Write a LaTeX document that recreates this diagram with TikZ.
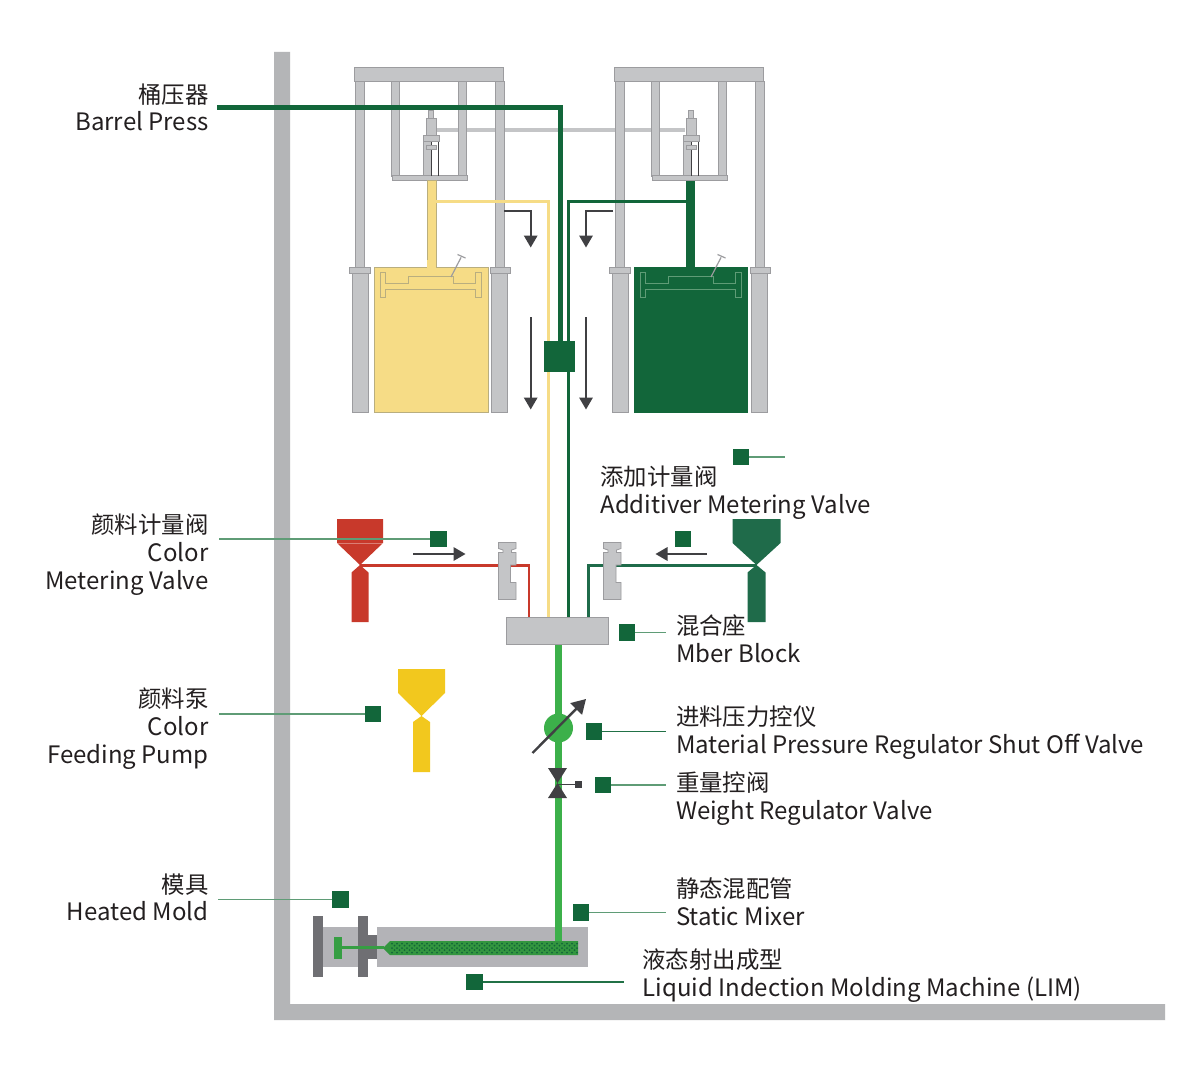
\documentclass[tikz,border=0pt]{standalone}
\usepackage{fontspec}
\setmainfont{Noto Sans CJK SC}
\usetikzlibrary{arrows.meta}
\definecolor{grayfill}{HTML}{C4C5C7}
\definecolor{grayedge}{HTML}{9C9C9F}
\definecolor{framegray}{HTML}{B4B5B7}
\definecolor{moldgray}{HTML}{B3B3B7}
\definecolor{platedark}{HTML}{6F6F73}
\definecolor{dkgreen}{HTML}{12663A}
\definecolor{leadgreen}{HTML}{5F9C76}
\definecolor{pipegreen}{HTML}{3CB04A}
\definecolor{hopgreen}{HTML}{1F6B4A}
\definecolor{yel}{HTML}{F6DC86}
\definecolor{yeledge}{HTML}{B9AE7F}
\definecolor{pumpyel}{HTML}{F2C81E}
\definecolor{redc}{HTML}{C8392B}
\definecolor{arrowc}{HTML}{404043}
\definecolor{txt}{HTML}{231F20}
\newcommand{\cnl}[1]{{\fontsize{23.4}{27.5}\selectfont #1}}
\tikzset{
  graypart/.style={fill=grayfill,draw=grayedge,line width=.8pt},
  sq/.style={fill=dkgreen,draw=none,minimum size=16.5pt,inner sep=0pt,outer sep=0pt},
  leader/.style={draw=leadgreen,line width=1.8pt},
  label/.style={font=\fontsize{24}{27.8}\selectfont,text=txt,inner sep=0pt,outer sep=0pt},
  lblL/.style={label,anchor=east,align=right},
  lblR/.style={label,anchor=west,align=left},
  flow/.style={draw=arrowc,line width=1.7pt,-{Triangle[length=12pt,width=13.5pt]}},
  pipeD/.style={draw=dkgreen,line width=2.6pt},
  pipeY/.style={draw=yel,line width=3pt},
  pipeR/.style={draw=redc,line width=2.6pt},
  pipeH/.style={draw=hopgreen,line width=2.6pt},
  block/.style={graypart,inner sep=0pt,outer sep=0pt}
}
\newcommand{\pressframe}[1]{%
\begin{scope}[xshift=#1pt]
  \draw[graypart] (355,81) rectangle (364,267);
  \draw[graypart] (495,81) rectangle (504,267);
  \draw[graypart] (391.5,81) rectangle (399,176);
  \draw[graypart] (458.5,81) rectangle (466,176);
  \draw[graypart] (354.5,67.5) rectangle (503.5,81);
  \draw[graypart] (392,175.5) rectangle (467,180.5);
  \draw[graypart] (349.5,267) rectangle (370,273);
  \draw[graypart] (490,267) rectangle (510,273);
  \draw[graypart] (352,273) rectangle (368,412.5);
  \draw[graypart] (491,273) rectangle (507,412.5);
  \draw[graypart] (428.5,110) rectangle (433,118);
  \draw[graypart] (426,118) rectangle (436,135);
  \draw[graypart] (423.5,141) rectangle (431,175.5);
  \draw[draw=arrowc,line width=.8pt] (431,141) -- (431,175.5) (438,141) -- (438,175.5);
  \draw[graypart] (423,135) rectangle (439,141);
  \draw[graypart] (426,145.5) rectangle (436,149.5);
\end{scope}}
\newcommand{\tankpiston}[2]{%
\begin{scope}[xshift=#1pt]
  \draw[draw=#2,line width=.9pt] (380.5,272.5) -- (385.5,272.5) -- (385.5,283.5) -- (408.5,283.5) -- (408.5,276) -- (453.5,276) -- (453.5,283.5) -- (475.5,283.5) -- (475.5,272.5) -- (481.5,272.5) -- (481.5,297) -- (475.5,297) -- (475.5,289) -- (385.5,289) -- (385.5,297) -- (380.5,297) -- cycle;
  \draw[draw=grayedge,line width=1.2pt] (451,277) -- (461,257.5) (457.5,254.5) -- (465.5,258);
\end{scope}}
\newcommand{\meter}[1]{%
\begin{scope}[xshift=#1pt]
  \fill[grayfill,draw=grayedge,line width=.8pt] (498.5,542.5) -- (516,542.5) -- (516,548.5) -- (511.5,550) -- (511.5,552.5) -- (516,552.5) -- (516,565) -- (510.5,565) -- (510.5,582.5) -- (516,582.5) -- (516,599.5) -- (498.5,599.5) -- (498.5,552.5) -- (503,552.5) -- (503,550) -- (498.5,548.5) -- cycle;
\end{scope}}
\newcommand{\hopper}[4]{% cx, half top, half low, colour
  \fill[#4] (#1-#2,519) -- (#1+#2,519) -- (#1+#2,543) -- (#1,565) -- (#1-#2,543) -- cycle;
  \fill[#4] (#1,565) -- (#1+#3,572.5) -- (#1+#3,622) -- (#1-#3,622) -- (#1-#3,572.5) -- cycle;
}
\begin{document}
\begin{tikzpicture}[x=1pt,y=-1pt]
\useasboundingbox (0,0) rectangle (1200,1065);
\fill[white] (0,0) rectangle (1200,1065);
% wall frame
\fill[framegray] (274,52) -- (290,52) -- (290,1004) -- (1165,1004) -- (1165,1020) -- (274,1020) -- cycle;
% gray link bar
\coordinate (linkA) at (436,130);
\coordinate (linkB) at (685,130);
\draw[draw=grayfill,line width=4.5pt] (linkA) -- (linkB);
\pressframe{0}
\pressframe{260}
% tanks
\draw[draw=yeledge,line width=.7pt,fill=yel] (427,180.5) rectangle (436,268);
\draw[draw=yeledge,line width=.8pt,fill=yel] (374,267) rectangle (488,412.5);
\fill[yel] (427.4,260) rectangle (435.6,268);
\tankpiston{0}{yeledge}
\fill[dkgreen] (686,180.5) rectangle (695,268);
\fill[dkgreen] (634,267) rectangle (747.5,412.5);
\tankpiston{260}{leadgreen}
% mixing block and main block
\node[block,minimum width=102.5pt,minimum height=27.5pt] (mix) at (557.5,631) {};
\node[fill=dkgreen,minimum width=31pt,minimum height=31pt,inner sep=0pt,outer sep=0pt] (hub) at (559.5,356.5) {};
% pipes
\coordinate (yA) at (436,201.5);
\coordinate (yB) at (548.3,201.5);
\coordinate (yC) at (548.3,617);
\draw[pipeY] (yA) -- (yB) -- (yC);
\coordinate (gA) at (686,201.5);
\coordinate (gB) at (568.7,201.5);
\coordinate (gC) at (568.7,617);
\draw[pipeD] (gA) -- (gB) -- (gC);
\fill[dkgreen] (544,341) rectangle (575,372);
\coordinate (bpA) at (217,107.5);
\coordinate (bpB) at (560,107.5);
\draw[draw=dkgreen,line width=5pt] (bpA) -- (bpB) -- (hub.north -| bpB);
% flow arrows
\coordinate (fa1) at (504,211); \coordinate (fa1b) at (530.7,211); \coordinate (fa1c) at (530.7,247.5);
\draw[flow] (fa1) -- (fa1b) -- (fa1c);
\coordinate (fa2) at (613,211); \coordinate (fa2b) at (586,211); \coordinate (fa2c) at (586,247.5);
\draw[flow] (fa2) -- (fa2b) -- (fa2c);
\coordinate (fa3) at (530.7,317); \coordinate (fa3b) at (530.7,409.5);
\draw[flow] (fa3) -- (fa3b);
\coordinate (fa4) at (586,317); \coordinate (fa4b) at (586,409.5);
\draw[flow] (fa4) -- (fa4b);
\coordinate (fa5) at (413,554); \coordinate (fa5b) at (465.5,554);
\draw[flow] (fa5) -- (fa5b);
\coordinate (fa6) at (707,554); \coordinate (fa6b) at (655.5,554);
\draw[flow] (fa6) -- (fa6b);
% hoppers
\hopper{360}{23}{8.5}{redc}
\draw[draw=white,opacity=.35,line width=1pt] (337,543) -- (383,543);
\hopper{756.5}{24}{9}{hopgreen}
\fill[pumpyel] (398,669) -- (445,669) -- (445,693) -- (421.5,716) -- (398,693) -- cycle;
\fill[pumpyel] (421.5,716) -- (430,722) -- (430,772) -- (413,772) -- (413,722) -- cycle;
% colour lines
\coordinate (rA) at (360,565.2);
\coordinate (rB) at (529,565.2);
\coordinate (rC) at (529,617);
\draw[pipeR] (rA) -- (rB) -- (rC);
\coordinate (hA) at (756.5,565.2);
\coordinate (hB) at (588.5,565.2);
\coordinate (hC) at (588.5,617);
\draw[pipeH] (hA) -- (hB) -- (hC);
\meter{0}
\begin{scope}[xshift=1119.5pt,x=-1pt]
\fill[grayfill,draw=grayedge,line width=.8pt] (498.5,542.5) -- (516,542.5) -- (516,548.5) -- (511.5,550) -- (511.5,552.5) -- (516,552.5) -- (516,599.5) -- (498.5,599.5) -- (498.5,582.5) -- (503.5,582.5) -- (503.5,565) -- (498.5,565) -- (498.5,552.5) -- (503,552.5) -- (503,550) -- (498.5,548.5) -- cycle;
\end{scope}
% mold
\fill[moldgray] (323,927) rectangle (358,967);
\fill[platedark] (368,935) rectangle (378,959);
\fill[moldgray] (377,927) rectangle (588,967);
\fill[platedark] (313,916) rectangle (323,977);
\fill[platedark] (358,916) rectangle (368,977);
\fill[pipegreen!85!black] (390,941) -- (578,941) -- (578,955) -- (390,955) -- (383,948) -- cycle;
\foreach \i in {0,...,37}{\foreach \j in {0,1,2}{
  \fill[dkgreen] ({392+\i*5},{943.5+\j*4.5}) circle (1pt);
}}
\foreach \i in {0,...,36}{\foreach \j in {0,1}{
  \fill[dkgreen] ({394.5+\i*5},{945.7+\j*4.5}) circle (1pt);
}}
\coordinate (rodA) at (342,947.5);
\coordinate (rodB) at (384,947.5);
\draw[draw=pipegreen!90!black,line width=2.4pt] (rodA) -- (rodB);
\fill[pipegreen!90!black] (334,937) rectangle (342,959);
% main green pipe
\coordinate (mpA) at (558.5,645);
\coordinate (mpB) at (558.5,941);
\draw[draw=pipegreen,line width=7pt] (mpA) -- (mpB);
\node[circle,fill=pipegreen,minimum size=29pt,inner sep=0pt] (reg) at (558.5,728) {};
\coordinate (regA) at (532.5,753);
\coordinate (regB) at (586,699);
\draw[draw=arrowc,line width=2.4pt,-{Triangle[length=14pt,width=16pt]}] (regA) -- (regB);
\fill[arrowc] (548,768) -- (567,768) -- (557.5,783) -- (567,798) -- (548,798) -- (557.5,783) -- cycle;
\node[fill=arrowc,minimum size=7pt,inner sep=0pt] (vh) at (578.5,784.5) {};
\draw[draw=arrowc,line width=1.6pt] (557.5,784.5) -- (vh.west);
% leaders and squares
\node[sq] (s1) at (438.7,539) {};
\coordinate (l1) at (219,539);
\draw[leader] (l1) -- (s1.west);
\node[sq] (s2) at (683,539) {};
\node[sq] (s3) at (741,457) {};
\coordinate (l3) at (785,457);
\draw[leader] (s3.east) -- (l3);
\node[sq] (s4) at (627,632.5) {};
\coordinate (l4) at (666,632.5);
\draw[leader] (s4.east) -- (l4);
\node[sq] (s5) at (373,714) {};
\coordinate (l5) at (219,714);
\draw[leader] (l5) -- (s5.west);
\node[sq] (s6) at (594,731.5) {};
\coordinate (l6) at (666,731.5);
\draw[leader,draw=dkgreen!80!leadgreen] (s6.east) -- (l6);
\node[sq] (s7) at (603,785) {};
\coordinate (l7) at (666,785);
\draw[leader] (s7.east) -- (l7);
\node[sq] (s8) at (340.5,899.5) {};
\coordinate (l8) at (218,899.5);
\draw[leader] (l8) -- (s8.west);
\node[sq] (s9) at (581,912.5) {};
\coordinate (l9) at (666,912.5);
\draw[leader] (s9.east) -- (l9);
\node[sq] (s10) at (474.5,982) {};
\coordinate (l10) at (624,982);
\draw[leader,draw=dkgreen!80!leadgreen] (s10.east) -- (l10);
% labels
\node[lblL] (tBP) at (208.5,107.3) {\cnl{桶压器}\\Barrel Press};
\node[lblL] (tCV) at (208.5,554.8) {\cnl{颜料计量阀}\\Color\\Metering Valve};
\node[lblL] (tCP) at (208.5,728.8) {\cnl{颜料泵}\\Color\\Feeding Pump};
\node[lblL] (tHM) at (208.5,897.3) {\cnl{模具}\\Heated Mold};
\node[lblR] (tAV) at (600.5,492.5) {\cnl{添加计量阀}\\Additiver Metering Valve};
\node[lblR] (tMB) at (676,638.8) {\cnl{混合座}\\Mber Block};
\node[lblR] (tMP) at (676,732.5) {\cnl{进料压力控仪}\\Material Pressure Regulator Shut Off Valve};
\node[lblR] (tWR) at (676,798.5) {\cnl{重量控阀}\\Weight Regulator Valve};
\node[lblR] (tSM) at (676,902) {\cnl{静态混配管}\\Static Mixer};
\node[lblR] (tLM) at (642.5,975.5) {\cnl{液态射出成型}\\Liquid Indection Molding Machine (LIM)};
\end{tikzpicture}
\end{document}
